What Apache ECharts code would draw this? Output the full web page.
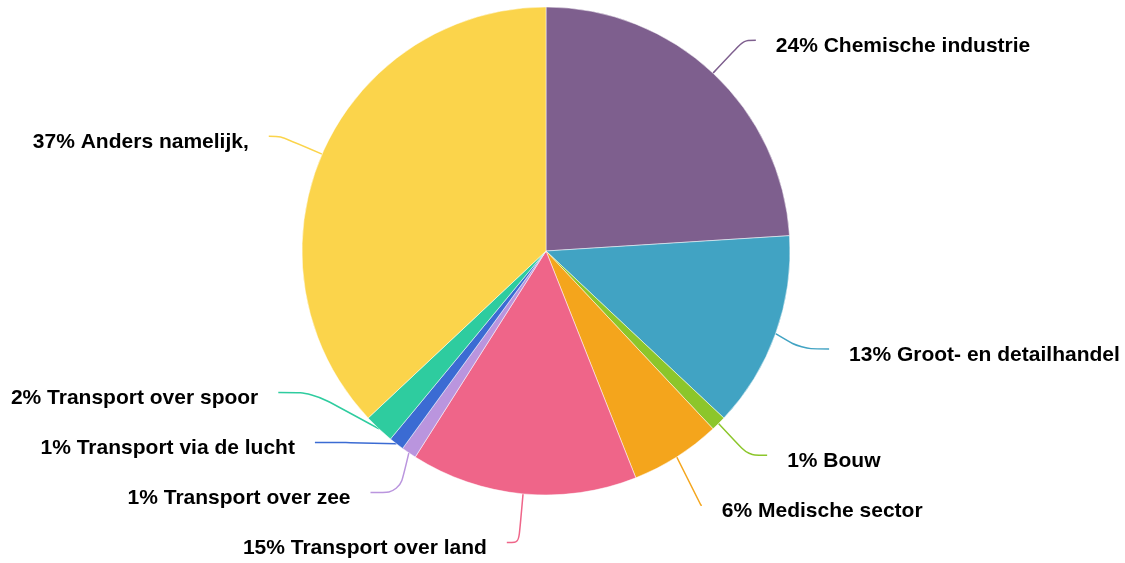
<!DOCTYPE html>
<html>
<head>
<meta charset="utf-8">
<script src="https://cdn.jsdelivr.net/npm/echarts@6/dist/echarts.min.js"></script>
<style>
  html, body { margin: 0; padding: 0; background: #fff; }
  #chart { width: 1125px; height: 563px; }
</style>
</head>
<body>
<div id="chart"></div>
<script>
// sector names and shares (percent), clockwise from 12 o'clock
const sectors = [
  "Chemische industrie",
  "Groot- en detailhandel",
  "Bouw",
  "Medische sector",
  "Transport over land",
  "Transport over zee",
  "Transport via de lucht",
  "Transport over spoor",
  "Anders namelijk,"
];
const shares = [24, 13, 1, 6, 15, 1, 1, 2, 37];
const colors = [
  "#7e5f8e", "#41a3c3", "#8cc62b", "#f4a51c", "#ef6589",
  "#ba95de", "#3b6bd3", "#2ecc9f", "#fbd44b"
];

// some label lines run a bit longer/shorter horizontally in the original
const len2Tweak = { 1: 16, 2: 7, 3: -11, 5: 17, 6: 19, 7: 22 };

var chart = echarts.init(document.getElementById("chart"));
const option = {
  animation: false,
  color: colors,
  series: [
    {
      type: "pie",
      left: 0,
      top: 0,
      width: 1125,
      height: 560,
      center: [546, 251],
      radius: 244,
      startAngle: 90,
      clockwise: true,
      avoidLabelOverlap: true,
      itemStyle: {
        borderColor: "#fff",
        borderWidth: 0.5,
      },
      label: {
        show: true,
        // empty first line pushes the text a little below the line end
        formatter: "{gap|}\n{t|{d}% {b}}",
        overflow: "none",
        distanceToLabelLine: 20,
        rich: {
          gap: { lineHeight: 12, fontSize: 1 },
          t: {
            color: "#000",
            fontFamily: "Liberation Sans",
            fontWeight: "bold",
            fontSize: 21,
            lineHeight: 62,
          },
        },
      },
      labelLine: {
        show: true,
        smooth: true,
        length: 45,
        length2: 12,
        lineStyle: { width: 1.5 },
      },
      data: sectors.map((name, i) => {
        const item = { name: name, value: shares[i] };
        if (len2Tweak[i] !== undefined) {
          item.labelLine = { length2: 12 + len2Tweak[i] };
        }
        return item;
      }),
    },
  ],
};
chart.setOption(option);
</script>
</body>
</html>
